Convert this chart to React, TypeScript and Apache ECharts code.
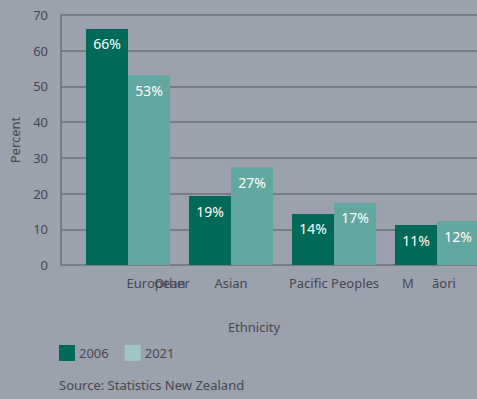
import React, { useEffect, useRef } from "react";
import * as echarts from "echarts";

const categories = ["European/Other", "Asian", "Pacific Peoples", "Māori"];
const seriesNames = ["2006", "2021"];
const values2006 = [66.1, 19.3, 14.3, 11.2];
const values2021 = [53.2, 27.4, 17.4, 12.3];
const yTicks = [0, 10, 20, 30, 40, 50, 60, 70];

const FONT = "Noto Sans";
const TEXT = "#46484d";
const GRID = "#6d7077";
const C2006 = "#006957";
const C2021 = "#62a7a0";
const C2021_LEGEND = "#a0c6c3";
const BG = "#9ba1ad";

export default function App() {
  const ref = useRef<HTMLDivElement>(null);
  useEffect(() => {
    if (!ref.current) return;
    const chart = echarts.init(ref.current, null, { renderer: "svg" });
    const label = {
      show: true,
      position: "insideTop",
      distance: 8,
      color: "#ffffff",
      fontFamily: FONT,
      fontSize: 14,
      formatter: (p: any) => Math.round(p.value) + "%",
    };
    chart.setOption({
      animation: false,
      backgroundColor: BG,
      textStyle: { fontFamily: FONT },
      grid: [
        { left: 60, right: 0, top: 15, height: 250 },
        { left: 76.5, width: 412, top: 15, height: 250 },
      ],
      legend: {
        left: 59,
        top: 345,
        padding: 0,
        itemWidth: 16,
        itemHeight: 16,
        itemGap: 16,
        icon: "rect",
        textStyle: { color: TEXT, fontFamily: FONT, fontSize: 13, padding: [0, 0, 0, -1] },
        data: [
          { name: seriesNames[0], itemStyle: { color: C2006 } },
          { name: seriesNames[1], itemStyle: { color: C2021_LEGEND } },
        ],
      },
      xAxis: [
        {
          gridIndex: 0,
          type: "category",
          data: categories,
          axisLine: { show: false },
          axisTick: { show: false },
          axisLabel: { show: false },
          name: "Ethnicity",
          nameLocation: "middle",
          nameGap: 55,
          nameTextStyle: { color: TEXT, fontFamily: FONT, fontSize: 13, padding: [0, 42, 0, 0] },
        },
        {
          gridIndex: 1,
          type: "category",
          data: categories,
          position: "bottom",
          axisLine: { show: false },
          axisTick: { show: false },
          axisLabel: {
            margin: 11,
            color: TEXT,
            fontFamily: FONT,
            fontSize: 13,
            interval: 0,
            formatter: (v: string, i: number) => {
              if (i === 0) return "{e|" + v.split("/")[0] + "}";
              if (i === 3) return "{m|" + v.slice(0, 1) + "}{a|" + v.slice(1) + "}";
              return v;
            },
            rich: {
              e: { color: TEXT, fontFamily: FONT, fontSize: 13, padding: [0, 0, 0, 56] },
              m: { color: TEXT, fontFamily: FONT, fontSize: 13, width: 30, align: "left" },
              a: { color: TEXT, fontFamily: FONT, fontSize: 13, padding: [0, 16, 0, 0] },
            },
          },
        },
        {
          gridIndex: 1,
          type: "category",
          data: categories,
          position: "bottom",
          axisLine: { show: false },
          axisTick: { show: false },
          axisLabel: {
            margin: 11,
            color: TEXT,
            fontFamily: FONT,
            fontSize: 13,
            interval: 0,
            formatter: (v: string, i: number) => (i === 0 ? "{o|" + v.split("/")[1] + "}" : ""),
            rich: {
              o: { color: TEXT, fontFamily: FONT, fontSize: 13, padding: [0, 0, 0, 88] },
            },
          },
        },
      ],
      yAxis: [
        {
          gridIndex: 0,
          type: "value",
          min: yTicks[0],
          max: yTicks[yTicks.length - 1],
          interval: 10,
          axisLine: { show: true, lineStyle: { color: GRID, width: 1.5 } },
          axisTick: { show: false },
          splitLine: { show: true, lineStyle: { color: GRID, width: 1.5 } },
          axisLabel: { color: TEXT, fontFamily: FONT, fontSize: 13, margin: 13 },
          name: "Percent",
          nameLocation: "middle",
          nameRotate: 90,
          nameGap: 40,
          nameTextStyle: { color: TEXT, fontFamily: FONT, fontSize: 13 },
        },
        {
          gridIndex: 1,
          type: "value",
          min: yTicks[0],
          max: yTicks[yTicks.length - 1],
          interval: 10,
          show: false,
        },
      ],
      series: [
        {
          name: seriesNames[0],
          type: "bar",
          xAxisIndex: 1,
          yAxisIndex: 1,
          data: values2006,
          barGap: "0%",
          barCategoryGap: "18.4%",
          itemStyle: { color: C2006 },
          label,
        },
        {
          name: seriesNames[1],
          type: "bar",
          xAxisIndex: 1,
          yAxisIndex: 1,
          data: values2021,
          barGap: "0%",
          barCategoryGap: "18.4%",
          itemStyle: { color: C2021 },
          label,
        },
      ],
      graphic: [
        {
          type: "text",
          left: 59,
          top: 378,
          style: { text: "Source: Statistics New Zealand", fill: TEXT, font: "13px 'Noto Sans'" },
        },
      ],
    });
    return () => chart.dispose();
  }, []);
  return (
    <div
      style={{ position: "fixed", left: 0, top: 0, width: 477, height: 399, overflow: "hidden" }}
    >
      <div ref={ref} style={{ width: 489, height: 399 }} />
    </div>
  );
}
